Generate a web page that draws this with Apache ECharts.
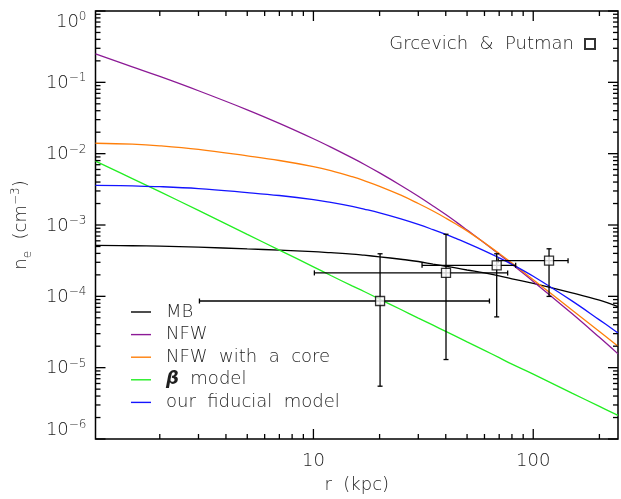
<!DOCTYPE html>
<html>
<head>
<meta charset="utf-8">
<script src="https://cdn.jsdelivr.net/npm/echarts@6/dist/echarts.min.js"></script>
<style>
  html, body { margin: 0; padding: 0; background: #fff; }
  #chart { width: 621px; height: 499px; }
</style>
</head>
<body>
<div id="chart"></div>
<script>
// Radius samples (kpc) shared by all density profiles
const radius = [1.02, 1.5, 2, 3, 5, 7, 10, 12, 15, 17, 20, 25, 30, 35, 40, 45, 50, 60, 70, 80, 100, 150, 200, 243];

// Electron density profiles n_e (cm^-3)
const densityMB = [5.17e-4, 5.12e-4, 5.06e-4, 4.90e-4, 4.62e-4, 4.45e-4, 4.24e-4, 4.09e-4, 3.91e-4, 3.77e-4,
                   3.58e-4, 3.31e-4, 3.08e-4, 2.83e-4, 2.64e-4, 2.48e-4, 2.34e-4, 2.13e-4, 1.93e-4, 1.76e-4,
                   1.52e-4, 1.12e-4, 8.83e-5, 7.17e-5];
const densityNFW = [0.25, 0.165, 0.121, 0.0762, 0.0412, 0.0266, 0.0162, 0.01236, 0.00872, 0.00711,
                    0.00537, 0.00358, 0.00253, 0.00185, 0.00140, 0.00108, 8.5e-4, 5.6e-4, 3.88e-4, 2.81e-4,
                    1.62e-4, 5.74e-5, 2.66e-5, 1.56e-5];
const densityNFWCore = [0.0140, 0.0136, 0.0129, 0.01148, 0.00931, 0.00802, 0.00659, 0.00578, 0.00475, 0.00419,
                        0.00349, 0.00262, 0.00200, 0.00157, 0.00125, 0.00101, 8.28e-4, 5.62e-4, 3.98e-4, 2.92e-4,
                        1.71e-4, 6.43e-5, 3.21e-5, 2.00e-5];
const densityBeta = [7.86e-3, 4.48e-3, 2.93e-3, 1.60e-3, 7.38e-4, 4.45e-4, 2.59e-4, 1.96e-4, 1.40e-4, 1.17e-4,
                     9.14e-5, 6.53e-5, 4.96e-5, 3.94e-5, 3.22e-5, 2.70e-5, 2.30e-5, 1.75e-5, 1.38e-5, 1.12e-5,
                     8.12e-6, 4.40e-6, 2.86e-6, 2.14e-6];
const densityFiducial = [3.60e-3, 3.53e-3, 3.45e-3, 3.24e-3, 2.85e-3, 2.59e-3, 2.27e-3, 2.07e-3, 1.82e-3, 1.67e-3,
                         1.48e-3, 1.22e-3, 1.02e-3, 8.61e-4, 7.38e-4, 6.38e-4, 5.58e-4, 4.35e-4, 3.47e-4, 2.81e-4,
                         1.91e-4, 8.63e-5, 4.68e-5, 3.07e-5];

// Grcevich & Putman measurements with their ranges
const obsRadius  = [20.1, 40.1, 68.2, 118];
const obsDensity = [8.6e-5, 2.13e-4, 2.72e-4, 3.16e-4];
const obsRadiusLow  = [3.03, 10.1, 31.2, 69.3];
const obsRadiusHigh = [63.2, 76.5, 83.2, 144];
const obsDensityLow  = [5.5e-6, 1.30e-5, 5.15e-5, 9.97e-5];
const obsDensityHigh = [3.95e-4, 7.42e-4, 3.95e-4, 4.64e-4];

// Series names and colours
const modelNames = ['MB', 'NFW', 'NFW with a core', '\u03b2 model', 'our fiducial model'];
const modelColors = ['#000000', '#8c1a96', '#ff7f0a', '#22ee22', '#1414ff'];
const obsName = 'Grcevich & Putman';

// Axis ranges and major tick labels
const X_MIN = 1.02, X_MAX = 243;
const Y_MIN = 1e-6, Y_MAX = 1;
const xTickLabels = ['10', '100'];

const FONT = 'DejaVu Sans';
const WEIGHT = 300;
const INK = '#1e1e1e';

const chart = echarts.init(document.getElementById('chart'), null, { renderer: 'canvas' });

function pairs(values) {
  return radius.map((r, i) => [r, values[i]]);
}

// Major and minor ticks on all four sides of the frame
function renderFrameTicks(params, api) {
  const children = [];
  const bl = api.coord([X_MIN, Y_MIN]);
  const tr = api.coord([X_MAX, Y_MAX]);
  const style = { stroke: '#000', lineWidth: 1.3 };
  for (let k = 0; k <= 2; k++) {
    for (let m = 1; m <= 9; m++) {
      const v = m * Math.pow(10, k);
      if (v < X_MIN || v > X_MAX) continue;
      const x = api.coord([v, Y_MIN])[0];
      const len = m === 1 ? 10 : 5;
      children.push({ type: 'line', shape: { x1: x, y1: bl[1], x2: x, y2: bl[1] - len }, style });
      children.push({ type: 'line', shape: { x1: x, y1: tr[1], x2: x, y2: tr[1] + len }, style });
    }
  }
  for (let k = -6; k <= 0; k++) {
    for (let m = 1; m <= 9; m++) {
      const v = m * Math.pow(10, k);
      if (v < Y_MIN * 0.999 || v > Y_MAX * 1.001) continue;
      const y = api.coord([X_MIN, v])[1];
      const len = m === 1 ? 10 : 5;
      children.push({ type: 'line', shape: { x1: bl[0], y1: y, x2: bl[0] + len, y2: y }, style });
      children.push({ type: 'line', shape: { x1: tr[0], y1: y, x2: tr[0] - len, y2: y }, style });
    }
  }
  return { type: 'group', children };
}

// Horizontal and vertical error bars with end caps
function renderErrorBar(params, api) {
  const r = api.value(0), n = api.value(1);
  const a = api.coord([api.value(2), n]);
  const b = api.coord([api.value(3), n]);
  const lo = api.coord([r, api.value(4)]);
  const hi = api.coord([r, api.value(5)]);
  const cap = 2.5;
  const style = { stroke: '#000', lineWidth: 1.3 };
  return {
    type: 'group',
    children: [
      { type: 'line', shape: { x1: a[0], y1: a[1], x2: b[0], y2: b[1] }, style },
      { type: 'line', shape: { x1: a[0], y1: a[1] - cap, x2: a[0], y2: a[1] + cap }, style },
      { type: 'line', shape: { x1: b[0], y1: b[1] - cap, x2: b[0], y2: b[1] + cap }, style },
      { type: 'line', shape: { x1: lo[0], y1: lo[1], x2: hi[0], y2: hi[1] }, style },
      { type: 'line', shape: { x1: lo[0] - cap, y1: lo[1], x2: lo[0] + cap, y2: lo[1] }, style },
      { type: 'line', shape: { x1: hi[0] - cap, y1: hi[1], x2: hi[0] + cap, y2: hi[1] }, style }
    ]
  };
}

function powerLabel(value) {
  const e = Math.round(Math.log10(value));
  const exp = e < 0 ? '\u2212' + (-e) : String(e);
  return '{b|10}{s|' + exp + '}';
}

const modelData = [densityMB, densityNFW, densityNFWCore, densityBeta, densityFiducial];

const lineSeries = modelNames.map((name, i) => ({
  name,
  type: 'line',
  data: pairs(modelData[i]),
  symbol: 'none',
  smooth: 0.4,
  lineStyle: { color: modelColors[i], width: 1.3 },
  itemStyle: { color: modelColors[i] },
  z: 3,
  silent: true
}));

const errorData = obsRadius.map((r, i) => [r, obsDensity[i], obsRadiusLow[i], obsRadiusHigh[i], obsDensityLow[i], obsDensityHigh[i]]);

const txt = (size, extra) => Object.assign({ fontFamily: FONT, fontWeight: WEIGHT, fontSize: size, color: INK }, extra || {});

const option = {
  animation: false,
  backgroundColor: '#fff',
  textStyle: { fontFamily: FONT, color: INK },
  grid: {
    left: 95.5, right: 1, top: 11, bottom: 57,
    show: true, borderColor: '#000', borderWidth: 1.5, backgroundColor: 'transparent'
  },
  xAxis: {
    type: 'log', logBase: 10, min: X_MIN, max: X_MAX,
    name: 'r  (kpc)', nameLocation: 'middle', nameGap: 37,
    nameTextStyle: txt(18),
    axisLine: { show: false }, axisTick: { show: false }, splitLine: { show: false },
    axisLabel: Object.assign(txt(18), {
      margin: 13,
      formatter: (v) => {
        const e = Math.log10(v);
        if (Math.abs(e - Math.round(e)) > 1e-6) return '';
        const s = String(Math.round(Math.pow(10, Math.round(e))));
        return xTickLabels.indexOf(s) >= 0 ? s : '';
      }
    })
  },
  yAxis: {
    type: 'log', logBase: 10, min: Y_MIN, max: Y_MAX,
    name: '{t|n}{sub|e}{t|  (cm}{sup|\u22123}{t|)}',
    nameLocation: 'middle', nameGap: 62, nameRotate: 90,
    nameTextStyle: {
      rich: {
        t: txt(18, { lineHeight: 24, verticalAlign: 'middle' }),
        sub: txt(12, { lineHeight: 24, verticalAlign: 'bottom' }),
        sup: txt(12, { lineHeight: 12, verticalAlign: 'top' })
      }
    },
    axisLine: { show: false }, axisTick: { show: false }, splitLine: { show: false },
    axisLabel: {
      margin: 9,
      verticalAlignMinLabel: 'bottom',
      verticalAlignMaxLabel: 'top',
      formatter: powerLabel,
      rich: {
        b: txt(18, { lineHeight: 20, verticalAlign: 'bottom' }),
        s: txt(12, { lineHeight: 12, verticalAlign: 'top' })
      }
    }
  },
  legend: [
    {
      data: modelNames.map((name) => ({ name, icon: 'rect' })),
      orient: 'vertical',
      left: 131, top: 303,
      padding: 0,
      itemWidth: 20, itemHeight: 1.4, itemGap: 4.6,
      selectedMode: false,
      formatter: (name) => name === '\u03b2 model' ? '{beta|\u03b2}{t|  model}' : '{t|' + name.replace(/ /g, '  ') + '}',
      textStyle: Object.assign(txt(18), {
        padding: [0, 0, 0, 10], lineHeight: 18,
        rich: {
          t: txt(18, { lineHeight: 18 }),
          beta: txt(18, { lineHeight: 18, fontWeight: 'bold', fontStyle: 'italic' })
        }
      })
    },
    {
      data: [obsName],
      orient: 'horizontal',
      right: 25, top: 35,
      padding: 0,
      align: 'right',
      itemWidth: 10, itemHeight: 10,
      selectedMode: false,
      formatter: (name) => name.replace(/ /g, '  '),
      textStyle: Object.assign(txt(18), { padding: [0, 6, 0, 0] })
    }
  ],
  series: [
    {
      name: 'ticks',
      type: 'custom',
      renderItem: renderFrameTicks,
      data: [[X_MIN, Y_MIN]],
      silent: true,
      clip: false,
      z: 10
    },
    ...lineSeries,
    {
      name: 'errors',
      type: 'custom',
      renderItem: renderErrorBar,
      data: errorData,
      encode: { x: 0, y: 1 },
      silent: true,
      z: 4
    },
    {
      name: obsName,
      type: 'scatter',
      data: obsRadius.map((r, i) => [r, obsDensity[i]]),
      symbol: 'rect',
      symbolSize: 9,
      itemStyle: { color: '#fff', borderColor: '#000', borderWidth: 1.3 },
      z: 5,
      silent: true
    }
  ]
};

chart.setOption(option);
</script>
</body>
</html>
